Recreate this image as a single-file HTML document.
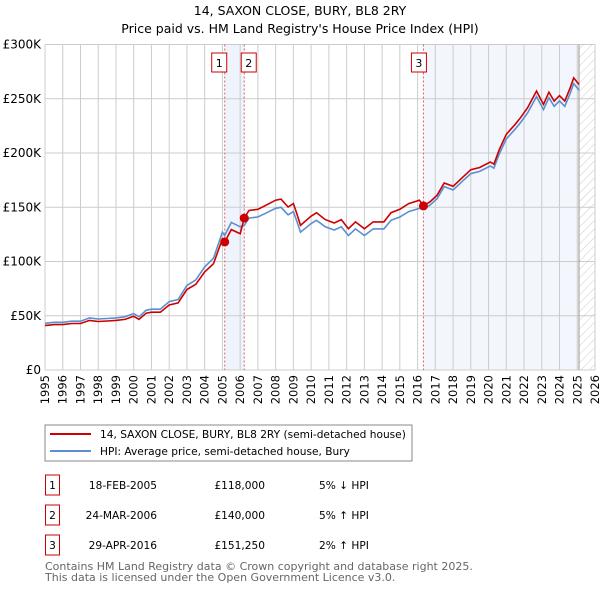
<!DOCTYPE html>
<html><head><meta charset="utf-8"><style>
body{margin:0;background:#fff;font-family:"DejaVu Sans","Liberation Sans",sans-serif;}
svg text{font-family:"DejaVu Sans","Liberation Sans",sans-serif;}
</style></head><body>
<svg id="c" width="600" height="590" viewBox="0 0 600 590" xmlns="http://www.w3.org/2000/svg">
<defs><pattern id="hatch" width="6" height="6" patternUnits="userSpaceOnUse" patternTransform="rotate(45)"><line x1="0" y1="0" x2="0" y2="6" stroke="#ccc" stroke-width="1"/></pattern></defs>
<text x="300" y="15" text-anchor="middle" font-size="12.5">14, SAXON CLOSE, BURY, BL8 2RY</text>
<text x="300" y="33" text-anchor="middle" font-size="12.5">Price paid vs. HM Land Registry's House Price Index (HPI)</text>
<g id="plot"></g>
<rect x="45" y="425" width="367" height="36" fill="#fff" stroke="#888"/>
<line x1="50" y1="434" x2="91" y2="434" stroke="#cc0000" stroke-width="2"/>
<text x="100" y="438" font-size="10.6">14, SAXON CLOSE, BURY, BL8 2RY (semi-detached house)</text>
<line x1="50" y1="451" x2="91" y2="451" stroke="#5b8fd0" stroke-width="2"/>
<text x="100" y="455" font-size="10.6">HPI: Average price, semi-detached house, Bury</text>
<g id="table" font-size="10.6"></g>
<text x="45" y="570" font-size="11" fill="#666">Contains HM Land Registry data © Crown copyright and database right 2025.</text>
<text x="45" y="581" font-size="11" fill="#666">This data is licensed under the Open Government Licence v3.0.</text>
</svg>
<script>
const hpiYears=[1995,1995.5,1996,1996.5,1997,1997.5,1998,1998.5,1999,1999.5,2000,2000.3,2000.7,2001,2001.5,2002,2002.5,2003,2003.5,2004,2004.5,2005,2005.13,2005.5,2006,2006.23,2006.5,2007,2007.5,2008,2008.3,2008.7,2009,2009.2,2009.4,2010,2010.3,2010.8,2011.3,2011.7,2012.1,2012.5,2013,2013.5,2014.1,2014.5,2015,2015.5,2016.1,2016.33,2016.7,2017.1,2017.5,2018,2018.6,2019,2019.5,2020.1,2020.3,2020.6,2021,2021.5,2021.8,2022.2,2022.7,2023.1,2023.4,2023.7,2024,2024.3,2024.6,2024.8,2025.1];
const hpiValues=[43000,44000,44000,45000,45000,48000,47000,47500,48000,49000,52000,49000,55000,56000,56000,63000,65000,78000,83000,95000,103000,127000,124000,136000,132000,133300,140000,141000,145000,149000,150000,143000,146000,137000,127000,135000,138000,132000,129000,132000,124000,130000,124000,130000,130000,138000,141000,146000,149000,148300,152000,158000,169000,166000,175000,181000,183000,188000,186000,199000,213000,222000,228000,237000,252000,240000,251000,243000,248000,243000,255000,264000,258000];
const saleYears=[2005.13,2006.23,2016.33];
const salePrices=[118000,140000,151250];
const saleLabels=["1","2","3"];
const saleDates=["18-FEB-2005","24-MAR-2006","29-APR-2016"];
const salePriceText=["£118,000","£140,000","£151,250"];
const saleHpiText=["5% ↓ HPI","5% ↑ HPI","2% ↑ HPI"];
const yTicks=[0,50000,100000,150000,200000,250000,300000];
const yTickLabels=["£0","£50K","£100K","£150K","£200K","£250K","£300K"];
const xTicks=[1995,1996,1997,1998,1999,2000,2001,2002,2003,2004,2005,2006,2007,2008,2009,2010,2011,2012,2013,2014,2015,2016,2017,2018,2019,2020,2021,2022,2023,2024,2025,2026];

const NS="http://www.w3.org/2000/svg";
const L=45,R=595,T=44.5,B=370,X0=1995,X1=2026,YMAX=300000;
const xs=v=>L+(v-X0)/(X1-X0)*(R-L);
const ys=v=>B-v/YMAX*(B-T);
const g=document.getElementById('plot');
function mk(tag,at,parent){const e=document.createElementNS(NS,tag);for(const k in at)e.setAttribute(k,at[k]);(parent||g).appendChild(e);return e;}
let e=mk('rect',{x:xs(saleYears[0]),y:T,width:xs(saleYears[1])-xs(saleYears[0]),height:B-T,fill:'#eef3fc'});


e=mk('rect',{x:xs(saleYears[2]),y:T,width:xs(2025.1)-xs(saleYears[2]),height:B-T,fill:'#f3f6fd'});


e=mk('rect',{x:xs(2025.1),y:T,width:R-xs(2025.1),height:B-T,fill:'url(#hatch)'});


xTicks.forEach((t,i)=>{
  const l=mk('line',{x1:xs(t),x2:xs(t),y1:T,y2:B,stroke:'#cccccc','stroke-width':1});
  
  
  const tx=mk('text',{x:0,y:0,'font-size':11.5,'text-anchor':'end',transform:`translate(${xs(t)+4},${B+5}) rotate(-90)`});
  tx.textContent=t;
  
  
});
yTicks.forEach((t,i)=>{
  const l=mk('line',{x1:L,x2:R,y1:ys(t),y2:ys(t),stroke:'#cccccc','stroke-width':1});
  
  
  const tx=mk('text',{x:L-4,y:ys(t)+4,'font-size':12,'text-anchor':'end'});
  tx.textContent=yTickLabels[i];
  
  
});
e=mk('line',{x1:xs(2025.1),x2:xs(2025.1),y1:T,y2:B,stroke:'#999','stroke-width':1});


saleYears.forEach((s,i)=>{
  const l=mk('line',{x1:xs(s),x2:xs(s),y1:T,y2:B,stroke:'#e06060','stroke-width':1,'stroke-dasharray':'2,2'});
  
  
  const bx=xs(s)+(i==0?-5:i==1?5:-4);
  const r=mk('rect',{x:bx-8,y:53,width:15,height:19,fill:'#fff',stroke:'#cc0000'});
  
  
  const t=mk('text',{x:bx-0.5,y:67,'font-size':11,'text-anchor':'middle'});
  t.textContent=saleLabels[i];
  
  
});
function hpiAt(y){for(let i=0;i<hpiYears.length-1;i++){if(y<=hpiYears[i+1]){const f=(y-hpiYears[i])/(hpiYears[i+1]-hpiYears[i]);return hpiValues[i]+f*(hpiValues[i+1]-hpiValues[i]);}}return hpiValues[hpiValues.length-1];}
const ratios=saleYears.map((s,i)=>salePrices[i]/hpiAt(s));
function ratioAt(y){let r=ratios[0];saleYears.forEach((s,i)=>{if(y>=s)r=ratios[i];});return r;}
let bp='',rp='';
hpiYears.forEach((y,i)=>{bp+=(i?'L':'M')+xs(y).toFixed(1)+','+ys(hpiValues[i]).toFixed(1);});
hpiYears.forEach((y,i)=>{rp+=(i?'L':'M')+xs(y).toFixed(1)+','+ys(hpiValues[i]*ratioAt(y)).toFixed(1);});
e=mk('path',{d:bp,fill:'none',stroke:'#5b8fd0','stroke-width':1.6});


e=mk('path',{d:rp,fill:'none',stroke:'#cc0000','stroke-width':1.6});


saleYears.forEach((s,i)=>{
  const c=mk('circle',{cx:xs(s),cy:ys(salePrices[i]),r:4.5,fill:'#cc0000'});
  
  
});
const tb=document.getElementById('table');
const rowY=[485,515,545];
saleYears.forEach((s,i)=>{
  const r=mk('rect',{x:45.5,y:rowY[i]-10,width:14,height:20,fill:'#fff',stroke:'#cc0000'},tb);
  
  
  const a=mk('text',{x:52.5,y:rowY[i]+4,'text-anchor':'middle'},tb);a.textContent=saleLabels[i];
  
  
  const d=mk('text',{x:157,y:rowY[i]+4,'text-anchor':'end'},tb);d.textContent=saleDates[i];
  
  
  const p=mk('text',{x:265,y:rowY[i]+4,'text-anchor':'end'},tb);p.textContent=salePriceText[i];
  
  
  const h=mk('text',{x:319,y:rowY[i]+4},tb);h.textContent=saleHpiText[i];
  
  
});
</script>
</body></html>
